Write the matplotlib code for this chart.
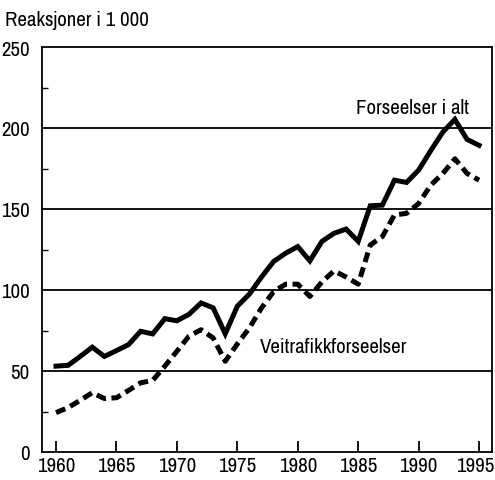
import matplotlib.pyplot as plt
import matplotlib.transforms as mtransforms
import numpy as np

years = list(range(1960, 1996))
# Forseelser i alt (1000 reaksjoner)
total = [53, 53.5, 59, 64.7, 59, 62.6, 66.3, 74.5, 72.9, 82.3,
         81, 85, 92, 89, 73, 90, 97.5, 108, 117.6, 122.7,
         126.8, 118, 130, 135, 137.6, 130, 152, 152.4, 167.8, 166.4,
         174, 186, 197.5, 205.3, 193, 189.3]
# Veitrafikkforseelser
traffic = [24.3, 27.4, 31.9, 36.6, 33, 33.5, 38, 42.7, 44.2, 53,
           62.2, 71.5, 75.5, 70.4, 56, 66.7, 76.6, 88.9, 99, 103.6,
           103.6, 96, 105, 111.8, 108, 103.6, 127.8, 133, 146.3, 147.3,
           153.4, 164.7, 171.9, 181, 172, 167.8]

plt.rcParams['font.family'] = ['Archivo Narrow', 'Liberation Sans', 'DejaVu Sans']

fig = plt.figure(figsize=(4.95, 4.81), dpi=100)
ax = fig.add_axes([42/495, 1-453/481, 450/495, 405/481])

ax.plot(years, total, color='black', lw=3.6, solid_joinstyle='miter')
ax.plot(years, traffic, color='black', lw=3.6, linestyle=(0, (2.0, 1.1)))

ax.set_xlim(1958.84, 1996.07)
ax.set_ylim(0, 250)
ax.set_xticks(range(1960, 1996, 5))
ax.set_yticks([0, 50, 100, 150, 200, 250])
ax.set_yticks([25, 75, 125, 175, 225], minor=True)
for y in [50, 100, 150, 200]:
    ax.axhline(y, color='black', lw=1.3, zorder=0)
ax.tick_params(axis='x', direction='in', length=8, width=1.3, labelsize=15, pad=3)
ax.tick_params(axis='y', which='major', length=0, labelsize=15, pad=9)
ax.tick_params(axis='y', which='minor', direction='in', length=4, width=1.0)
for s in ax.spines.values():
    s.set_linewidth(1.3)

# nudge last x label so it stays inside the image
last = ax.get_xticklabels()[-1]
last.set_transform(last.get_transform() + mtransforms.ScaledTranslation(-4/100, 0, fig.dpi_scale_trans))

ax.text(1984.8, 207, 'Forseelser i alt', fontsize=15, ha='left', va='bottom')
ax.text(1976.9, 59, 'Veitrafikkforseelser', fontsize=15, ha='left', va='bottom')
fig.text(5/495, 1-20/481, 'Reaksjoner i 1 000', fontsize=15, ha='left', va='center')

fig.savefig('out.png', dpi=100)
